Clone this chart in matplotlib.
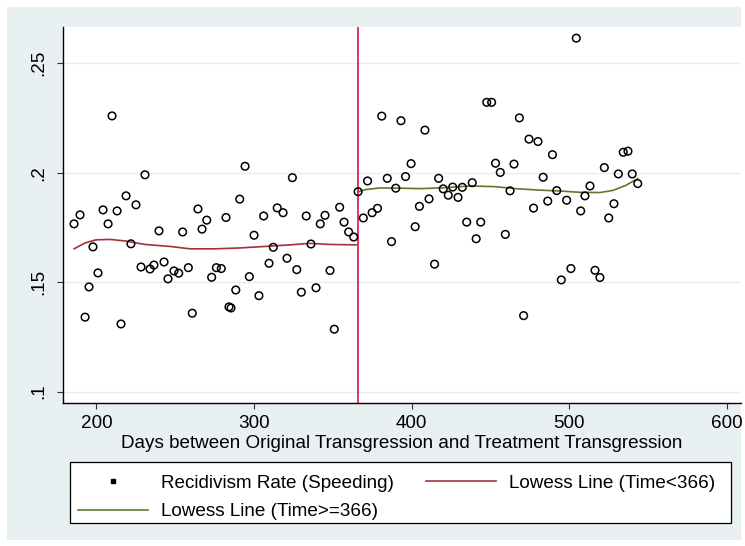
"""Recidivism rate (speeding) around the 366 day cut-off

scatter of the daily rates plus the two lowess lines

"""
import matplotlib
matplotlib.use('Agg')
import matplotlib.pyplot as plt
from matplotlib.lines import Line2D
from matplotlib.patches import Rectangle

plt.rcParams['font.family'] = ['Liberation Sans', 'DejaVu Sans']

### data ###

# days before the cut-off (time < 366)
days_pre = [185.8, 189.6, 192.8, 195.3, 197.8, 201.0, 204.2, 207.4, 209.9, 213.1,
            215.6, 218.8, 221.9, 225.1, 228.3, 230.8, 234.0, 236.5, 239.7, 242.9,
            245.4, 249.2, 252.2, 254.7, 258.3, 260.8, 264.4, 267.0, 270.0, 273.1,
            276.1, 279.2, 282.2, 284.1, 285.4, 288.4, 290.9, 294.3, 297.0, 300.0,
            303.1, 306.1, 309.5, 312.2, 314.7, 318.4, 320.9, 324.3, 327.1, 330.0,
            333.1, 336.1, 339.3, 342.0, 345.0, 348.2, 350.9, 354.3, 357.1, 360.0,
            363.2]
rate_pre = [.1766, .1807, .1340, .1478, .1661, .1542, .1830, .1766, .2259, .1825,
            .1309, .1894, .1675, .1853, .1569, .1990, .1560, .1578, .1734, .1592,
            .1515, .1551, .1541, .1729, .1566, .1358, .1834, .1742, .1783, .1522,
            .1566, .1562, .1795, .1387, .1382, .1464, .1879, .2029, .1525, .1714,
            .1438, .1802, .1586, .1659, .1839, .1817, .1609, .1977, .1557, .1454,
            .1802, .1674, .1474, .1766, .1805, .1553, .1285, .1842, .1774, .1729,
            .1706]

# days from the cut-off on (time >= 366)
days_post = [366.0, 369.3, 372.0, 374.9, 378.3, 381.0, 384.5, 387.2, 389.9, 393.2,
             396.1, 399.6, 402.2, 404.9, 408.4, 411.0, 414.5, 417.1, 420.0, 423.2,
             426.0, 429.4, 432.1, 434.9, 438.4, 440.9, 443.8, 447.6, 450.7, 453.2,
             456.2, 459.4, 462.4, 464.9, 468.3, 471.0, 474.4, 477.3, 480.1, 483.4,
             486.3, 489.3, 492.0, 494.9, 498.3, 501.0, 504.4, 507.2, 509.9, 513.1,
             516.3, 519.4, 522.2, 525.0, 528.3, 531.1, 534.2, 537.2, 539.9, 543.4]
rate_post = [.1913, .1793, .1962, .1817, .1837, .2258, .1974, .1685, .1929, .2237,
             .1982, .2041, .1753, .1846, .2194, .1880, .1582, .1974, .1926, .1897,
             .1934, .1887, .1933, .1774, .1954, .1698, .1774, .2321, .2321, .2043,
             .2001, .1718, .1917, .2039, .2250, .1347, .2153, .1838, .2142, .1979,
             .1870, .2082, .1918, .1510, .1874, .1562, .2614, .1825, .1894, .1939,
             .1554, .1521, .2023, .1793, .1858, .1994, .2093, .2098, .1994, .1950]

# lowess lines as drawn in the picture
lw_pre_days = [185.8, 192.8, 199.7, 208.6, 218.1, 230.8, 246.7, 259.4, 275.2,
               291.1, 306.9, 322.8, 335.5, 348.2, 364.7]
lw_pre_rate = [.1652, .1679, .1693, .1695, .1688, .1672, .1663, .1652, .1652,
               .1656, .1663, .1670, .1677, .1672, .1670]
lw_post_days = [365.9, 371.0, 379.9, 392.6, 405.3, 417.9, 437.0, 452.8, 465.5,
                481.4, 494.1, 506.8, 519.4, 527.7, 535.9, 543.4]
lw_post_rate = [.1912, .1923, .1930, .1929, .1927, .1930, .1939, .1936, .1927,
                .1920, .1916, .1910, .1909, .1919, .1942, .1973]

x_ticks = [200, 300, 400, 500, 600]
y_ticks = [.1, .15, .2, .25]
y_ticklabels = ['.1', '.15', '.2', '.25']

### plot ###

W, H = 745, 546
FS = 13.6
bg_col = '#e9f0f2'
red_line = '#a3313d'
green_line = '#5b7a2e'
cut_col = '#d6173f'

fig = plt.figure(figsize=(W / 100, H / 100), dpi=100)
fig.patch.set_facecolor('white')
fig.patches.append(Rectangle((7 / W, 1 - 540 / H), (741 - 7) / W, (540 - 7) / H,
                             transform=fig.transFigure, facecolor=bg_col,
                             edgecolor='none', zorder=-10))

ax = fig.add_axes([63 / W, 1 - 403 / H, (741 - 63) / W, (403 - 27) / H])
ax.set_facecolor('white')

ax.scatter(days_pre + days_post, rate_pre + rate_post, s=30, facecolors='none',
           edgecolors='black', linewidths=1.1, zorder=3)
ax.plot(lw_pre_days, lw_pre_rate, color=red_line, lw=1.2, zorder=2)
ax.plot(lw_post_days, lw_post_rate, color=green_line, lw=1.2, zorder=2)
ax.axvline(366, color=cut_col, lw=1.2, zorder=2)

ax.set_xlim(178.8, 608.9)
ax.set_ylim(.0948, .2665)
ax.set_xticks(x_ticks)
ax.set_yticks(y_ticks)
ax.set_yticklabels(y_ticklabels, rotation=90, va='center')
ax.tick_params(axis='both', labelsize=FS, length=4.5, width=0.8, color='#333333')
ax.tick_params(axis='x', pad=4)
ax.tick_params(axis='y', pad=7)
ax.grid(axis='y', color='#e4edf0', lw=1.0)
ax.set_axisbelow(True)
for side in ['top', 'right']:
    ax.spines[side].set_visible(False)
for side in ['left', 'bottom']:
    ax.spines[side].set_linewidth(1.0)

ax.set_xlabel('Days between Original Transgression and Treatment Transgression',
              fontsize=FS, labelpad=2)

# legend box below the plot
fig.patches.append(Rectangle((70 / W, 1 - 523 / H), (731 - 70) / W, (523 - 462) / H,
                             transform=fig.transFigure, facecolor='white',
                             edgecolor='black', lw=0.9, zorder=1))
handles = [Line2D([], [], marker='s', ms=2.5, color='black', ls='none'),
           Line2D([], [], color=green_line, lw=1.2),
           Line2D([], [], color=red_line, lw=1.2)]
labels = ['Recidivism Rate (Speeding)', 'Lowess Line (Time>=366)',
          'Lowess Line (Time<366)']
fig.legend(handles, labels, ncol=2, loc='upper left',
           bbox_to_anchor=(78 / W, 1 - 474.5 / H), frameon=False, fontsize=FS,
           borderpad=0, borderaxespad=0, handlelength=3.7, handletextpad=0.7,
           columnspacing=1.7, labelspacing=0.6)

fig.savefig('out.png', dpi=100)
